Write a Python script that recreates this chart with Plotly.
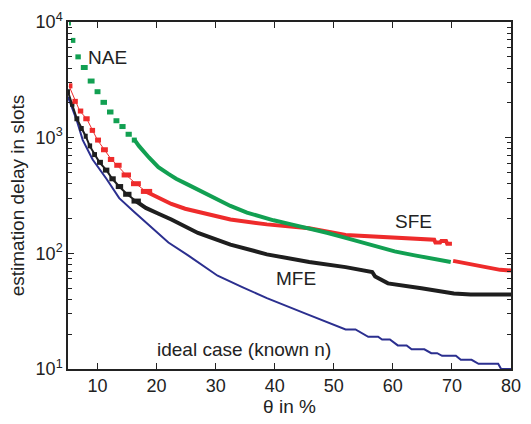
import math
import plotly.graph_objects as go

# theta in %, estimation delay in slots
nae_theta = [5.17, 5.83, 6.67, 7.67, 9.0, 10.0, 11.0, 12.2, 13.2, 14.2, 15.3, 16.3, 17.0,
             18.7, 20.3, 22.0, 23.3, 25.3, 27.7, 29.8, 32.5, 35.3, 37.5, 39.8, 42.8, 45.8,
             49.0, 52.0, 56.2, 60.3, 63.7, 67.0, 69.8]
nae_delay = [9808, 6934, 4996, 4044, 3087, 2497, 2020, 1667, 1401, 1248, 1070, 953, 849,
             674, 556, 486, 441, 393, 343, 300, 257, 225, 208, 193, 178, 165,
             150, 136, 119, 104, 96, 89, 84]

sfe_theta = [5.17, 6.33, 7.0, 8.17, 9.17, 10.0, 11.17, 12.33, 13.33, 14.83, 16.5, 18.17,
             20.33, 22.5, 24.83, 28.17, 32.5, 38.67, 45.83, 52.0, 60.33, 67.0, 67.2, 68.0,
             68.2, 69.0, 69.2, 70.0, 70.2, 75.33, 78.17, 80.0]
sfe_delay = [2804, 2060, 1699, 1457, 1156, 953, 786, 648, 577, 476, 400, 343,
             300, 267, 243, 220, 196, 178, 165, 144, 136, 131, 124, 124,
             128, 128, 121, 121, 86, 76, 72, 71]

mfe_theta = [5.0, 5.67, 6.5, 7.33, 8.0, 8.67, 9.5, 10.33, 11.5, 12.5, 13.67, 15.0, 16.5,
             18.17, 20.33, 22.5, 27.0, 32.5, 38.67, 45.83, 52.0, 55.83, 56.5, 57.0, 59.17,
             64.83, 70.33, 73.17, 80.0]
mfe_delay = [2497, 1944, 1457, 1201, 1029, 849, 714, 612, 524, 441, 378, 324, 283,
             247, 220, 196, 150, 119, 98, 84, 76, 71, 69, 63, 55,
             50, 45, 44, 44]

ideal_theta = [5.0, 6.5, 7.5, 9.17, 11.5, 13.67, 16.17, 18.67, 22.0, 25.33, 30.33, 34.5,
               38.67, 45.33, 50.33, 52.0, 53.67, 55.83, 57.5, 58.17, 59.5, 60.83, 62.33,
               63.17, 65.33, 66.5, 67.5, 68.33, 70.67, 71.5, 73.33, 74.5, 77.83, 78.33, 80.0]
ideal_delay = [2250, 1401, 953, 648, 441, 300, 229, 175, 124, 96, 64, 51,
               41, 30, 24, 22, 22, 19, 19, 18, 18, 16, 16,
               14.8, 14.8, 13.7, 13.7, 13, 13, 12, 12, 11.1, 11.1, 10, 10]

x_ticks = [10, 20, 30, 40, 50, 60, 70, 80]
y_ticks = [10, 100, 1000, 10000]
y_tick_text = ["10<sup>1</sup>", "10<sup>2</sup>", "10<sup>3</sup>", "10<sup>4</sup>"]

# curve labels: text, theta, delay
label_text = ["NAE", "SFE", "MFE", "ideal case (known n)"]
label_theta = [8.0, 63.5, 43.67, 34.8]
label_delay = [4900, 189, 60.5, 14.6]
label_anchor = ["left", "center", "center", "center"]

GREEN = "#12a052"
RED = "#ee2b2b"
BLACK = "#1e1e1e"
BLUE = "#2b2f8f"
FONT = "Liberation Sans, Arial, Helvetica, sans-serif"


def step_dashes(xs, ys, stop):
    """Short horizontal pieces centred on each sample up to index `stop`."""
    px, py = [], []
    for i in range(stop + 1):
        left = xs[i] if i == 0 else (xs[i - 1] + xs[i]) / 2
        right = (xs[i] + xs[i + 1]) / 2 if i + 1 < len(xs) else xs[i]
        px += [left, right, None]
        py += [ys[i], ys[i], None]
    return px, py


def broken_at_jumps(xs, ys, ratio=0.8, min_dx=0.5):
    """Polyline interrupted where the delay falls abruptly within a tiny theta step."""
    px, py = [xs[0]], [ys[0]]
    for i in range(1, len(xs)):
        if ys[i] / ys[i - 1] < ratio and xs[i] - xs[i - 1] < min_dx:
            px.append(None)
            py.append(None)
        px.append(xs[i])
        py.append(ys[i])
    return px, py


fig = go.Figure()


def add_estimator(xs, ys, color, split, thin):
    if thin > 0:
        fig.add_trace(go.Scatter(x=xs[:split + 1], y=ys[:split + 1], mode="lines",
                                 line=dict(color=color, width=thin), showlegend=False))
    dx, dy = step_dashes(xs, ys, split)
    fig.add_trace(go.Scatter(x=dx, y=dy, mode="lines",
                             line=dict(color=color, width=5), showlegend=False))
    lx, ly = broken_at_jumps(xs[split:], ys[split:])
    fig.add_trace(go.Scatter(x=lx, y=ly, mode="lines", connectgaps=False,
                             line=dict(color=color, width=4), showlegend=False))


fig.add_trace(go.Scatter(x=ideal_theta, y=ideal_delay, mode="lines",
                         line=dict(color=BLUE, width=2), showlegend=False))
add_estimator(mfe_theta, mfe_delay, BLACK, 12, 2)
add_estimator(sfe_theta, sfe_delay, RED, 11, 1)
add_estimator(nae_theta, nae_delay, GREEN, 11, 0)

# annotation positions on a log axis are given in log10 units
for text, lx, ly, anchor in zip(label_text, label_theta, label_delay, label_anchor):
    fig.add_annotation(x=lx, y=math.log10(ly), text=text, showarrow=False, xanchor=anchor,
                       yanchor="middle", font=dict(family=FONT, size=19, color="#222"))

minor_vals = [m * 10 ** k for k in range(1, 4) for m in range(2, 10)]

fig.update_layout(
    width=531, height=424,
    margin=dict(l=68, r=10, t=15, b=51),
    paper_bgcolor="white", plot_bgcolor="white",
    font=dict(family=FONT, size=18, color="#222"),
    xaxis=dict(range=[5, 80], tickvals=x_ticks, ticks="inside", ticklen=6,
               tickcolor="#222", showline=True, linecolor="#222", linewidth=1.5,
               mirror="ticks", showgrid=False, zeroline=False,
               title=dict(text="θ in %", font=dict(size=19), standoff=4)),
    yaxis=dict(type="log", range=[1, 4], tickvals=y_ticks, ticktext=y_tick_text,
               ticks="inside", ticklen=6, tickcolor="#222", showline=True,
               linecolor="#222", linewidth=1.5, mirror="ticks", showgrid=False,
               zeroline=False,
               minor=dict(tickvals=minor_vals, ticks="inside", ticklen=4,
                          tickcolor="#222", showgrid=False),
               title=dict(text="estimation delay in slots", font=dict(size=19), standoff=6)),
)

fig.write_html("out.html")
